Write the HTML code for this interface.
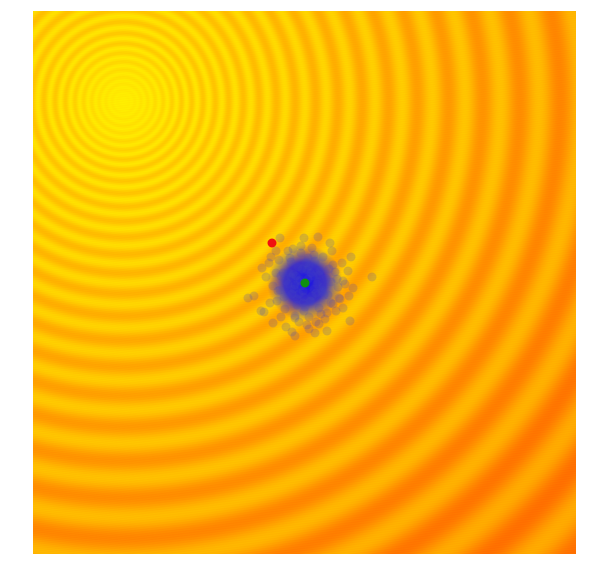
<!DOCTYPE html>
<html><head><meta charset="utf-8"><style>
html,body{margin:0;padding:0;background:#fff;width:593px;height:579px;overflow:hidden}
#c{position:absolute;left:33px;top:11px}
svg{position:absolute;left:0;top:0}
</style></head><body>
<canvas id="c" width="543" height="543"></canvas>
<svg id="s" width="593" height="579"></svg>
<script>
// domain units: 0..543 in x and y (plot coordinates)
const sourceCenter = [90, 90];
const samplesX = [272,275,268,280,265,270,278,262,285,258,290,266,274,281,260,287,271,276,283,255,293,269,264,279,286,273,277,261,289,267,
 270,282,259,284,275,263,291,272,278,265,250,300,245,305,252,298,257,295,248,302,240,310,262,288,244,316,238,320,255,299,
 231,339,248,266,292,310,215,228,286,243,303,271,297,253,282,236,318,259,276,247,309,268,229,221,317,294,262,307,240,285,
 256,289,247,296,264,281,253,300,243,306,276,268,258,294,286,251,304,237,312,262,279,290,246,298,271,260,283,233,315,274];
const samplesY = [272,268,275,265,270,280,262,274,271,266,276,283,259,278,263,260,286,255,282,273,268,258,288,285,264,252,290,278,279,269,
 292,250,283,273,247,265,284,296,290,256,262,254,280,276,298,292,247,284,265,261,275,270,305,303,290,285,246,277,240,240,
 301,266,306,311,308,297,287,300,313,240,300,227,232,316,322,252,246,321,318,227,252,235,257,285,310,320,325,288,312,226,
 262,281,279,258,294,244,270,293,262,287,306,242,251,302,297,286,268,292,273,307,237,246,249,271,300,238,311,266,260,314];
const bestPoint = [239, 232];
const meanPoint = [272, 272];
const X = v => 33 + v, Y = v => 11 + v;
const cv = document.getElementById('c'), ctx = cv.getContext('2d');
const img = ctx.createImageData(543, 543);
for (let j = 0; j < 543; j++) for (let i = 0; i < 543; i++) {
  const r = Math.hypot(i - sourceCenter[0], j - sourceCenter[1]);
  const ph = (2 * Math.PI / 0.085) * Math.log(5 + 0.085 * r);
  const v = 0.5 + 0.5 * Math.cos(ph);
  const t = Math.min(1, r / 560);
  const amp = Math.min(1, r / 60);
  const light = 238 - 68 * t, dark = 212 - 100 * t;
  let g = light - v * amp * (light - dark);
  const k = (j * 543 + i) * 4;
  img.data[k] = 255; img.data[k + 1] = g + (Math.sin(i * 12.9 + j * 78.2) * 4); img.data[k + 2] = 0; img.data[k + 3] = 255;
}
ctx.putImageData(img, 0, 0);
const s = document.getElementById('s'), NS = 'http://www.w3.org/2000/svg';
const defs = document.createElementNS(NS, 'defs');
defs.innerHTML = '<radialGradient id="g"><stop offset="0" stop-color="rgb(20,15,235)" stop-opacity="1"/><stop offset="0.55" stop-color="rgb(30,25,230)" stop-opacity="0.85"/><stop offset="1" stop-color="rgb(60,50,200)" stop-opacity="0"/></radialGradient>';
s.appendChild(defs);
const core = document.createElementNS(NS, 'circle');
core.setAttribute('cx', X(meanPoint[0])); core.setAttribute('cy', Y(meanPoint[1])); core.setAttribute('r', 38);
core.setAttribute('fill', 'url(#g)');
 
s.appendChild(core);
for (let n = 0; n < samplesX.length; n++) {
  const c = document.createElementNS(NS, 'circle');
  c.setAttribute('cx', X(samplesX[n])); c.setAttribute('cy', Y(samplesY[n])); c.setAttribute('r', 4.5);
  c.setAttribute('fill', 'rgba(70,70,190,0.22)');
  
  
  s.appendChild(c);
}
const b = document.createElementNS(NS, 'circle');
b.setAttribute('cx', X(bestPoint[0])); b.setAttribute('cy', Y(bestPoint[1])); b.setAttribute('r', 4.5); b.setAttribute('fill', '#f01010');
 
s.appendChild(b);
const m = document.createElementNS(NS, 'circle');
m.setAttribute('cx', X(meanPoint[0])); m.setAttribute('cy', Y(meanPoint[1])); m.setAttribute('r', 4.5); m.setAttribute('fill', '#109010');
 
s.appendChild(m);
</script>
</body></html>
